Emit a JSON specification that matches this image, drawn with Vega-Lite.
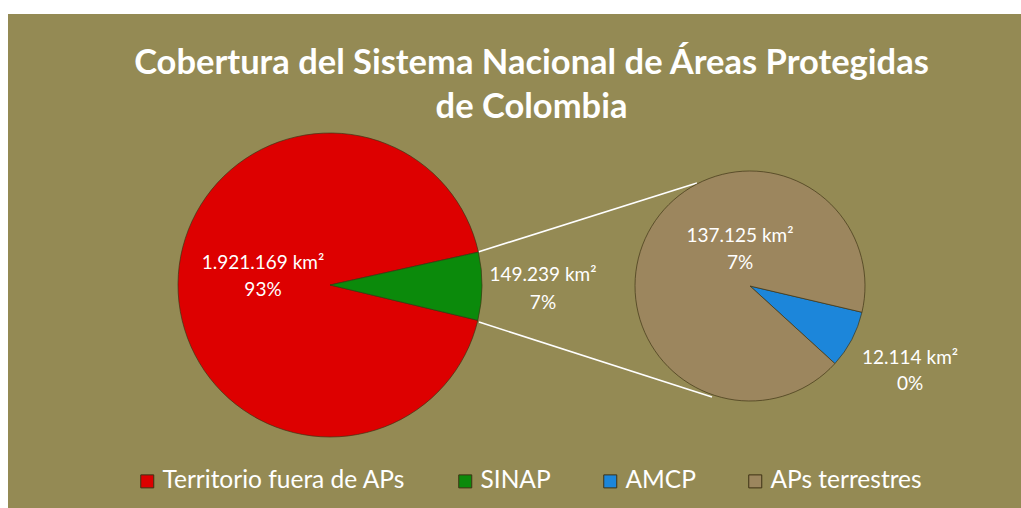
{
  "$schema": "https://vega.github.io/schema/vega-lite/v6.json",
  "width": 1013,
  "height": 494,
  "autosize": {"type": "none"},
  "padding": {"left": 8, "top": 14, "right": 0, "bottom": 0},
  "background": "white",
  "view": {"fill": "#948A54", "stroke": null},
  "title": {
    "text": ["Cobertura del Sistema Nacional de Áreas Protegidas", "de Colombia"],
    "font": "Lato",
    "fontSize": 34.5,
    "fontWeight": "bold",
    "color": "white",
    "lineHeight": 44,
    "anchor": "middle",
    "offset": -111,
    "dx": 17
  },
  "datasets": {
    "areas": [
      {"grupo": "Colombia", "categoria": "Territorio fuera de APs", "km2": 1921169, "pct": "93%"},
      {"grupo": "Colombia", "categoria": "SINAP", "km2": 149239, "pct": "7%"},
      {"grupo": "SINAP", "categoria": "AMCP", "km2": 12114, "pct": "0%"},
      {"grupo": "SINAP", "categoria": "APs terrestres", "km2": 137125, "pct": "7%"}
    ],
    "conectores": [
      {"desde": "Colombia", "hasta": "SINAP"}
    ]
  },
  "layer": [
    {
      "data": {"name": "conectores"},
      "mark": {"type": "rule", "color": "white", "strokeWidth": 1.6, "xOffset": 148, "x2Offset": -53, "yOffset": -33, "y2Offset": -103},
      "encoding": {
        "x": {"field": "desde", "type": "nominal", "axis": null, "scale": {"type": "point", "domain": ["Colombia", "SINAP"], "range": [322, 742], "padding": 0}},
        "x2": {"field": "hasta"},
        "y": {"field": "desde", "type": "nominal", "axis": null, "scale": {"type": "point", "domain": ["Colombia", "SINAP"], "range": [271, 272], "padding": 0}},
        "y2": {"field": "hasta"}
      }
    },
    {
      "data": {"name": "conectores"},
      "mark": {"type": "rule", "color": "white", "strokeWidth": 1.6, "xOffset": 149, "x2Offset": -38, "yOffset": 37, "y2Offset": 111},
      "encoding": {
        "x": {"field": "desde", "type": "nominal", "axis": null},
        "x2": {"field": "hasta"},
        "y": {"field": "desde", "type": "nominal", "axis": null},
        "y2": {"field": "hasta"}
      }
    },
    {
      "data": {"name": "areas"},
      "transform": [
        {"filter": "datum.grupo === 'Colombia'"},
        {"calculate": "replace(format(datum.km2, ','), regexp(',', 'g'), '.') + ' km²\\n' + datum.pct", "as": "etiqueta"}
      ],
      "encoding": {
        "x": {"field": "grupo", "type": "nominal", "axis": null},
        "y": {"field": "grupo", "type": "nominal", "axis": null},
        "theta": {"field": "km2", "type": "quantitative", "stack": true, "scale": {"range": [1.3526, 7.6358]}},
        "order": {"field": "categoria", "sort": "ascending"}
      },
      "layer": [
        {
          "mark": {"type": "arc", "outerRadius": 152, "stroke": "#3d3214", "strokeWidth": 0.9, "strokeOpacity": 0.75},
          "encoding": {
            "color": {
              "field": "categoria",
              "type": "nominal",
              "scale": {
                "domain": ["Territorio fuera de APs", "SINAP", "AMCP", "APs terrestres"],
                "range": ["#DD0000", "#0B8A0B", "#1C86DA", "#9C865E"]
              },
              "legend": {
                "orient": "none",
                "legendX": 127,
                "legendY": 455,
                "direction": "horizontal",
                "title": null,
                "padding": 0,
                "symbolType": "square",
                "symbolSize": 169,
                "symbolStrokeWidth": 1,
                "symbolStrokeColor": "#4a3d1c",
                "labelFont": "Lato",
                "labelFontSize": 24.5,
                "labelColor": "white",
                "labelOffset": 3,
                "columnPadding": 47,
                "labelLimit": 400
              }
            }
          }
        },
        {
          "mark": {"type": "text", "radius": 67, "dy": -21, "font": "Lato", "fontSize": 19, "lineHeight": 27, "lineBreak": "\n", "align": "center", "baseline": "middle"},
          "encoding": {
            "color": {"value": "white"},
            "detail": {"field": "categoria", "type": "nominal"},
            "text": {"condition": {"test": "datum.categoria === 'Territorio fuera de APs'", "field": "etiqueta", "type": "nominal"}, "value": ""}
          }
        },
        {
          "mark": {"type": "text", "radius": 213, "dy": -12, "font": "Lato", "fontSize": 19, "lineHeight": 28, "lineBreak": "\n", "align": "center", "baseline": "middle"},
          "encoding": {
            "color": {"value": "white"},
            "detail": {"field": "categoria", "type": "nominal"},
            "text": {"condition": {"test": "datum.categoria === 'SINAP'", "field": "etiqueta", "type": "nominal"}, "value": ""}
          }
        }
      ]
    },
    {
      "data": {"name": "areas"},
      "transform": [
        {"filter": "datum.grupo === 'SINAP'"},
        {"calculate": "replace(format(datum.km2, ','), regexp(',', 'g'), '.') + ' km²\\n' + datum.pct", "as": "etiqueta"}
      ],
      "encoding": {
        "x": {"field": "grupo", "type": "nominal", "axis": null},
        "y": {"field": "grupo", "type": "nominal", "axis": null},
        "theta": {"field": "km2", "type": "quantitative", "stack": true, "scale": {"range": [1.8012, 8.0844]}},
        "order": {"field": "categoria", "sort": "ascending"}
      },
      "layer": [
        {
          "mark": {"type": "arc", "outerRadius": 115, "stroke": "#3d3214", "strokeWidth": 0.9, "strokeOpacity": 0.75},
          "encoding": {
            "color": {"field": "categoria", "type": "nominal"}
          }
        },
        {
          "mark": {"type": "text", "radius": 0, "dx": -10, "dy": -50, "font": "Lato", "fontSize": 19, "lineHeight": 27, "lineBreak": "\n", "align": "center", "baseline": "middle"},
          "encoding": {
            "color": {"value": "white"},
            "detail": {"field": "categoria", "type": "nominal"},
            "text": {"condition": {"test": "datum.categoria === 'APs terrestres'", "field": "etiqueta", "type": "nominal"}, "value": ""}
          }
        },
        {
          "mark": {"type": "text", "radius": 181, "dy": -12, "font": "Lato", "fontSize": 19, "lineHeight": 26, "lineBreak": "\n", "align": "center", "baseline": "middle"},
          "encoding": {
            "color": {"value": "white"},
            "detail": {"field": "categoria", "type": "nominal"},
            "text": {"condition": {"test": "datum.categoria === 'AMCP'", "field": "etiqueta", "type": "nominal"}, "value": ""}
          }
        }
      ]
    }
  ],
  "resolve": {"scale": {"theta": "independent"}}
}
